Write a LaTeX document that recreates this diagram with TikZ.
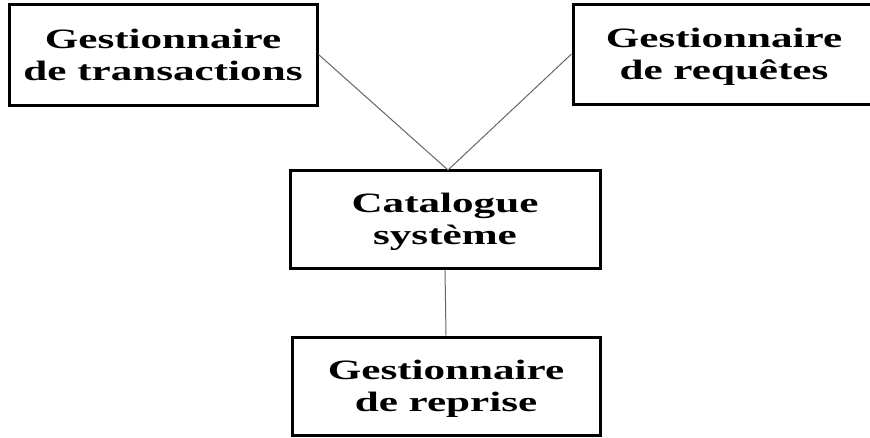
\documentclass[tikz,border=0pt]{standalone}
\usepackage{fontspec}
\setmainfont{Liberation Serif}[FakeStretch=1.54]
\newcommand{\nodepth}[1]{\raisebox{0pt}[\height][0pt]{#1}}
\begin{document}
\begin{tikzpicture}[x=1pt,y=-1pt,
  boxnode/.style={draw=black,line width=3pt,rectangle,inner sep=0pt,align=center,
    font=\fontsize{28}{32}\selectfont\bfseries},
  link/.style={draw=black!60,line width=1pt}]
\useasboundingbox (0,0) rectangle (870,437);
\node[boxnode,minimum width=308pt,minimum height=101pt] (tl) at (163,54.5) {Gestionnaire\\\nodepth{de transactions}};
\node[boxnode,minimum width=302pt,minimum height=100pt] (tr) at (724,54) {Gestionnaire\\\nodepth{de requêtes}};
\node[boxnode,minimum width=310pt,minimum height=98pt] (cs) at (445,219) {Catalogue\\\nodepth{système}};
\node[boxnode,minimum width=308pt,minimum height=98pt] (rep) at (446,386) {Gestionnaire\\\nodepth{de reprise}};
\coordinate (top) at (448,170);
\draw[link] (tl.east) -- (top);
\draw[link] (tr.west) -- (top);
\draw[link] (cs.south) -- (rep.north);
\end{tikzpicture}
\end{document}
